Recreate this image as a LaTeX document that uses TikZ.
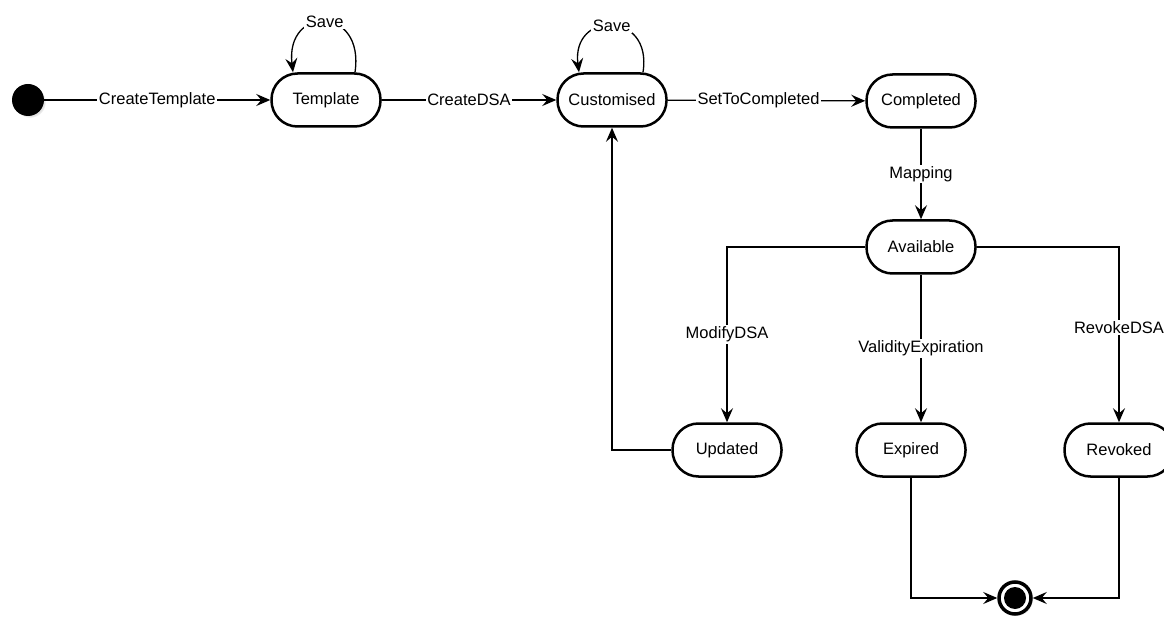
\documentclass[tikz,border=0pt]{standalone}
\usepackage{fontspec}
\setmainfont{Liberation Sans}
\usetikzlibrary{arrows.meta,shadows}
\begin{document}
\begin{tikzpicture}[x=1pt,y=-1pt,
  state/.style={draw, line width=2.5pt, rounded corners=26pt, minimum width=109pt, minimum height=53pt, inner sep=0pt, font=\fontsize{16.5}{19}\selectfont},
  edge/.style={line width=1.3pt, -{Stealth[length=14pt,width=12pt,inset=5pt]}},
  lbl/.style={fill=white, inner sep=1.5pt, font=\fontsize{16.5}{19}\selectfont},
  csh/.style={circular drop shadow={opacity=0.25, shadow xshift=2pt, shadow yshift=-2pt, shadow scale=1}},
]
\useasboundingbox (0,0) rectangle (1164,617);

% initial and final
\node[circle, fill=black, minimum size=32pt, inner sep=0pt, csh] (init) at (28,100) {};
\node[circle, draw=black, line width=3.5pt, fill=white, minimum size=32pt, inner sep=0pt, csh] (final) at (1015,598) {};
\fill[black] (final) circle (11pt);

% states
\node[state] (template)   at (326,100) {Template};
\node[state] (customised) at (612,100) {Customised};
\node[state] (completed)  at (921,101) {Completed};
\node[state] (available)  at (921,247) {Available};
\node[state] (updated)    at (727,450) {Updated};
\node[state] (expired)    at (911,450) {Expired};
\node[state] (revoked)    at (1119,450) {Revoked};

% horizontal transitions
\draw[edge] (init) -- node[lbl] {CreateTemplate} (template);
\draw[edge] (template) -- node[lbl] {CreateDSA} (customised);
\draw[edge] (customised) -- node[lbl, xshift=-8pt] {SetToCompleted} (completed);
\draw[edge] (completed) -- node[lbl] {Mapping} (available);

% self loops
\draw[edge] ([xshift=29pt]template.north) .. controls +(10,-67) and +(-8,-67) .. ([xshift=-33pt]template.north)
  node[lbl, pos=0.5] {Save};
\draw[edge] ([xshift=31pt]customised.north) .. controls +(10,-62) and +(-8,-62) .. ([xshift=-33pt]customised.north)
  node[lbl, pos=0.5] {Save};

% from available
\draw[edge] (available.west) -| node[lbl, pos=0.75] {ModifyDSA} (updated.north);
\draw[edge] (available.south) -- node[lbl, pos=0.5] {ValidityExpiration} (available.south |- expired.north);
\draw[edge] (available.east) -| node[lbl, pos=0.73] {RevokeDSA} (revoked.north);

% back to customised
\draw[edge] (updated.west) -| (customised.south);

% to final
\draw[edge] (expired.south) |- (final.west);
\draw[edge] (revoked.south) |- (final.east);
\end{tikzpicture}
\end{document}
